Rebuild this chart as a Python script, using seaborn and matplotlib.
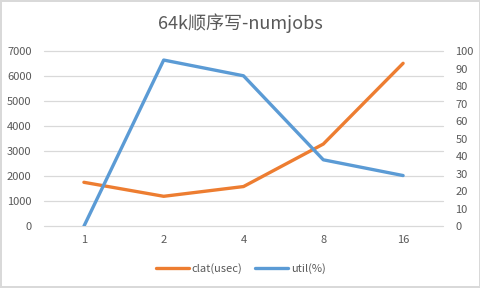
import matplotlib
matplotlib.use("Agg")
import matplotlib.pyplot as plt
import seaborn as sns
import pandas as pd

categories = ["1", "2", "4", "8", "16"]
clat_usec = [1760, 1200, 1590, 3290, 6520]
util_pct = [0, 95, 86, 38, 29]
left_ticks = [0, 1000, 2000, 3000, 4000, 5000, 6000, 7000]
right_ticks = [0, 10, 20, 30, 40, 50, 60, 70, 80, 90, 100]

sns.set_theme(style="white")
plt.rcParams['font.family'] = ['Noto Sans CJK SC', 'DejaVu Sans']

ORANGE = "#ED7D31"
BLUE = "#5B9BD5"
GRID = "#D9D9D9"
TXT = "#595959"

df = pd.DataFrame({"numjobs": categories, "clat": clat_usec, "util": util_pct})

fig = plt.figure(figsize=(4.81, 2.88), dpi=100)
fig.patch.set_facecolor("white")
fig.patch.set_edgecolor(GRID)
fig.patch.set_linewidth(1.5)
ax = fig.add_axes([44/481, 1-226.3/288, 399/481, 175/288])
ax2 = ax.twinx()

sns.lineplot(data=df, x="numjobs", y="clat", ax=ax, color=ORANGE, linewidth=2.4,
             label="clat(usec)", legend=False, sort=False)
sns.lineplot(data=df, x="numjobs", y="util", ax=ax2, color=BLUE, linewidth=2.4,
             label="util(%)", legend=False, sort=False)

ax.set_xlim(-0.5, 4.5)
ax.set_ylim(0, 7000)
ax2.set_ylim(0, 100)
ax.set_yticks(left_ticks)
ax2.set_yticks(right_ticks)
ax.set_xlabel("")
ax.set_ylabel("")
ax2.set_ylabel("")
ax.grid(axis="y", color=GRID, linewidth=0.9)
for gl in ax.get_ygridlines():
    gl.set_clip_on(False)
ax.set_axisbelow(True)
ax2.grid(False)
for a in (ax, ax2):
    for s in a.spines.values():
        s.set_visible(False)
    a.tick_params(length=0, labelsize=8, labelcolor=TXT)
ax.tick_params(axis="y", pad=9)
ax2.tick_params(axis="y", pad=9)
ax.tick_params(axis="x", pad=6)

fig.suptitle("64k顺序写-numjobs", y=0.955, fontsize=13, color=TXT)

h1, l1 = ax.get_legend_handles_labels()
h2, l2 = ax2.get_legend_handles_labels()
fig.legend(h1 + h2, l1 + l2, loc="center", bbox_to_anchor=(0.5, 0.068), ncol=2,
           frameon=False, fontsize=8, labelcolor=TXT, handlelength=3.0,
           handletextpad=0.2, columnspacing=1.2)

fig.savefig("out.png", dpi=100, facecolor=fig.get_facecolor(), edgecolor=fig.get_edgecolor())
